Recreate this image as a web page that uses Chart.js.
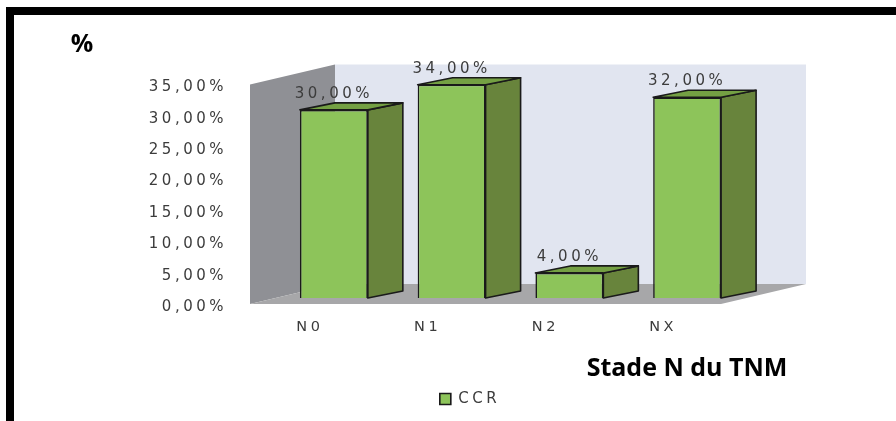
<!DOCTYPE html>
<html><head><meta charset="utf-8">
<script src="https://cdn.jsdelivr.net/npm/chart.js@4"></script>
<style>html,body{margin:0;padding:0;background:#fff;overflow:hidden}</style>
</head><body>
<canvas id="c" width="896" height="421"></canvas>
<script>
const categories = ['N0', 'N1', 'N2', 'NX'];
const seriesName = 'CCR';
const ccrValues = [30, 34, 4, 32];
const yTickValues = [0, 5, 10, 15, 20, 25, 30, 35];
const yAxisTitle = '%';
const xAxisTitle = 'Stade N du TNM';

const fmt = v => Number(v).toFixed(2).replace('.', ',') + '%';
const SPACING = '3.5px';
const TEXT = '#3C3C3C';
const setSpacing = chart => { chart.ctx.letterSpacing = SPACING; };

function poly(ctx, pts, fill, stroke, lw) {
  ctx.beginPath();
  ctx.moveTo(pts[0][0], pts[0][1]);
  for (let i = 1; i < pts.length; i++) ctx.lineTo(pts[i][0], pts[i][1]);
  ctx.closePath();
  ctx.fillStyle = fill; ctx.fill();
  if (stroke) { ctx.strokeStyle = stroke; ctx.lineWidth = lw || 1; ctx.lineJoin = 'round'; ctx.stroke(); }
}

const spacingPlugin = {
  id: 'spacing',
  beforeUpdate: setSpacing,
  beforeLayout: setSpacing,
  beforeDraw: setSpacing
};

const box3d = {
  id: 'box3d',
  beforeDatasetsDraw(chart) {
    const { ctx, chartArea: a, scales } = chart;
    const T = scales.y.getPixelForValue(yTickValues[yTickValues.length - 1]);
    const B = scales.y.getPixelForValue(0);
    const L = a.left, R = a.right;
    const fx = -25, fy = 6, bx = 60, by = -14;
    ctx.save();
    // back wall
    poly(ctx, [[L + bx, T + by], [R + bx, T + by], [R + bx, B + by], [L + bx, B + by]], '#E1E5F0');
    // left side wall
    poly(ctx, [[L + fx, B + fy], [L + fx, T + fy], [L + bx, T + by], [L + bx, B + by]], '#8F9095');
    // floor
    poly(ctx, [[L + fx, B + fy], [R + fx, B + fy], [R + bx, B + by], [L + bx, B + by]], '#A7A7A9');
    // 3D bar side & top faces
    const dx = 35, dy = -7;
    chart.getDatasetMeta(0).data.forEach(bar => {
      const { x, y, base, width } = bar.getProps(['x', 'y', 'base', 'width'], true);
      const l = x - width / 2, r = x + width / 2;
      poly(ctx, [[r, y], [r + dx, y + dy], [r + dx, base + dy], [r, base]], '#68843C', '#1A1A1A', 1.6);
      poly(ctx, [[l, y], [l + dx, y + dy], [r + dx, y + dy], [r, y]], '#74A043', '#1A1A1A', 1.6);
    });
    ctx.restore();
  },
  afterDatasetsDraw(chart) {
    const { ctx } = chart;
    ctx.save();
    ctx.letterSpacing = SPACING;
    ctx.font = '15px "DejaVu Sans"';
    ctx.fillStyle = TEXT;
    ctx.textAlign = 'center';
    ctx.textBaseline = 'middle';
    const ds = chart.data.datasets[0];
    chart.getDatasetMeta(0).data.forEach((bar, i) => {
      const { x, y } = bar.getProps(['x', 'y'], true);
      ctx.fillText(fmt(ds.data[i]), x, y - 16);
    });
    ctx.restore();
  },
  afterDraw(chart) {
    const { ctx } = chart;
    ctx.save();
    ctx.letterSpacing = '0px';
    ctx.fillStyle = '#000';
    ctx.fillRect(6, 7, 890, 8);
    ctx.fillRect(6, 7, 8, 414);
    ctx.font = 'bold 25px "Open Sans"';
    ctx.textAlign = 'center';
    ctx.textBaseline = 'middle';
    ctx.fillText(yAxisTitle, 82, 45);
    ctx.fillText(xAxisTitle, 687, 369);
    ctx.restore();
  }
};

new Chart(document.getElementById('c'), {
  type: 'bar',
  data: {
    labels: categories,
    datasets: [{
      label: seriesName,
      data: ccrValues,
      backgroundColor: '#8DC45A',
      borderColor: '#1A1A1A',
      borderWidth: 1.6,
      barPercentage: 0.577,
      categoryPercentage: 1
    }]
  },
  options: {
    responsive: false,
    animation: false,
    devicePixelRatio: 1,
    layout: { padding: { left: 44, right: 0, top: 78.5, bottom: 4.5 } },
    plugins: {
      tooltip: { enabled: false },
      legend: {
        position: 'bottom',
        labels: {
          boxWidth: 11, boxHeight: 11, padding: 10,
          color: TEXT,
          font: { family: 'DejaVu Sans', size: 15 }
        }
      }
    },
    scales: {
      x: {
        grid: { display: false, drawTicks: false },
        border: { display: false },
        ticks: { color: TEXT, font: { family: 'DejaVu Sans', size: 14.5 }, padding: 21, labelOffset: -24 },
        afterFit: s => { s.height = 83.5; }
      },
      y: {
        min: 0, max: 35,
        grid: { display: false, drawTicks: false },
        border: { display: false },
        afterBuildTicks: s => { s.ticks = yTickValues.map(v => ({ value: v })); },
        ticks: { color: TEXT, font: { family: 'DejaVu Sans', size: 15 }, padding: 48, labelOffset: 9, callback: v => fmt(v) },
        afterFit: s => { s.width = 231; }
      },
      yR: {
        type: 'linear', position: 'right', display: true,
        grid: { display: false, drawTicks: false },
        border: { display: false },
        ticks: { display: false },
        afterFit: s => { s.width = 150; }
      }
    }
  },
  plugins: [spacingPlugin, box3d]
});
</script>
</body></html>
